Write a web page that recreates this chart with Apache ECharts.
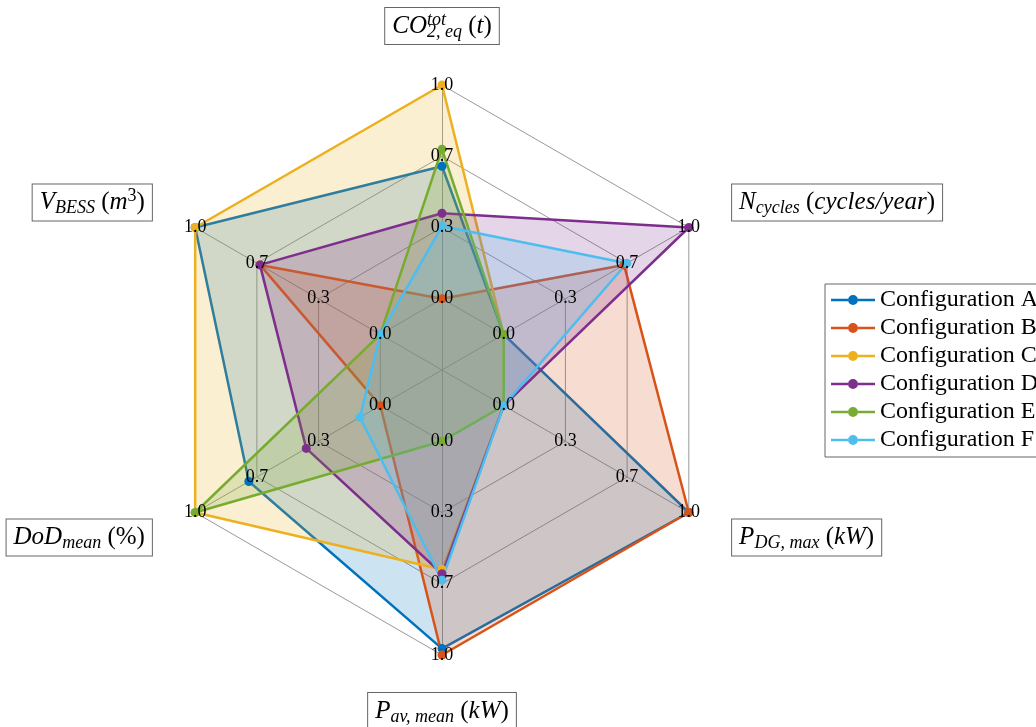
<!DOCTYPE html>
<html>
<head>
<meta charset="utf-8">
<script src="https://cdn.jsdelivr.net/npm/echarts@6/dist/echarts.min.js"></script>
<style>
  html, body { margin: 0; padding: 0; background: #fff; }
  #main { width: 1036px; height: 727px; }
</style>
</head>
<body>
<div id="main"></div>
<script>
// axes, counter-clockwise from the top (ECharts order)
const axisNames = [
  '{i|CO}{supz|tot}{sub|2, eq}{r| (}{i|t}{r|)}',
  '{i|V}{sub|BESS}{r| (}{i|m}{sup|3}{r|)}',
  '{i|DoD}{sub|mean}{r| (%)}',
  '{i|P}{sub|av, mean}{r| (}{i|kW}{r|)}',
  '{i|P}{sub|DG, max}{r| (}{i|kW}{r|)}',
  '{i|N}{sub|cycles}{r| (}{i|cycles/year}{r|)}'
];
const configNames = ['Configuration A', 'Configuration B', 'Configuration C',
  'Configuration D', 'Configuration E', 'Configuration F'];
const configA = [0.62, 1.0, 0.71, 0.97, 1.0, 0.0];
const configB = [0.0, 0.65, 0.0, 1.0, 1.0, 0.65];
const configC = [1.0, 1.0, 1.0, 0.60, 0.0, 0.0];
const configD = [0.40, 0.65, 0.40, 0.62, 0.0, 1.0];
const configE = [0.70, 0.0, 1.0, 0.0, 0.0, 0.0];
const configF = [0.34, 0.0, 0.11, 0.65, 0.0, 0.665];
const colors = ['#0072BD', '#D95319', '#EDB120', '#7E2F8E', '#77AC30', '#4DBEEE'];

const allValues = [configA, configB, configC, configD, configE, configF];
const serif = 'Liberation Serif';
const center = [442, 370];
const radius = 285;
// name gap per axis (top and bottom boxes sit closer)
const nameGaps = [41, 50, 50, 38, 50, 50];

let chart = echarts.init(document.getElementById('main'));

chart.setOption({
  backgroundColor: '#fff',
  animation: false,
  legend: {
    orient: 'vertical',
    left: 825,
    top: 284,
    padding: [2, 6, 3, 6],
    itemGap: 0,
    itemWidth: 44,
    itemHeight: 10,
    icon: 'path://M0,3.7H17V6.3H0Z M27,3.7H44V6.3H27Z M17,5A5,5 0 1 1 27,5A5,5 0 1 1 17,5Z',
    borderColor: '#666',
    borderWidth: 1,
    backgroundColor: '#fff',
    itemStyle: { borderWidth: 0 },
    textStyle: { fontFamily: serif, fontSize: 24, lineHeight: 28, color: '#000' },
    data: configNames
  },
  radar: [
    {
      // grid + boxed axis names
      center: center,
      radius: radius,
      startAngle: 90,
      shape: 'polygon',
      splitNumber: 4,
      indicator: axisNames.map((n, i) => ({ name: n, min: -1 / 3, max: 1, nameGap: nameGaps[i] })),
      axisName: {
        color: '#000',
        fontFamily: serif,
        fontSize: 25,
        lineHeight: 30,
        backgroundColor: '#fff',
        borderColor: '#666',
        borderWidth: 1,
        padding: [3, 7],
        rich: {
          i: { fontFamily: serif, fontStyle: 'italic', fontSize: 25, lineHeight: 30, align: 'left' },
          r: { fontFamily: serif, fontSize: 25, lineHeight: 30, align: 'left' },
          sub: { fontFamily: serif, fontStyle: 'italic', fontSize: 18, lineHeight: 30, verticalAlign: 'bottom', align: 'left' },
          sup: { fontFamily: serif, fontSize: 18, lineHeight: 30, verticalAlign: 'top', align: 'left' },
          supz: { fontFamily: serif, fontStyle: 'italic', fontSize: 18, lineHeight: 30, verticalAlign: 'top', align: 'left', width: 0.01 }
        }
      },
      axisLine: { show: true, lineStyle: { color: '#999', width: 1 } },
      axisTick: { show: false },
      axisLabel: { show: false },
      splitLine: { lineStyle: { color: '#999', width: 1 } },
      splitArea: { show: false }
    },
    {
      // tick labels only, drawn above the series
      z: 10,
      center: center,
      radius: radius,
      startAngle: 90,
      shape: 'polygon',
      splitNumber: 4,
      indicator: axisNames.map(() => ({ name: '', min: -1 / 3, max: 1 })),
      axisName: { show: false },
      axisLine: { show: false },
      axisTick: { show: false },
      splitLine: { show: false },
      splitArea: { show: false },
      axisLabel: {
        show: true,
        margin: 0,
        align: 'center',
        verticalAlign: 'middle',
        fontFamily: serif,
        fontSize: 18,
        color: '#000',
        formatter: function (v) {
          if (v < -0.1) return '';
          if (Math.abs(v) < 1e-6) return '0.0';
          return v.toFixed(1);
        }
      }
    }
  ],
  series: [
    {
      type: 'radar',
      radarIndex: 0,
      symbol: 'circle',
      symbolSize: 9,
      data: allValues.map((vals, i) => ({
        name: configNames[i],
        value: vals,
        itemStyle: { color: colors[i] },
        lineStyle: { color: colors[i], width: 2.5 },
        areaStyle: { color: colors[i], opacity: 0.2 }
      }))
    }
  ]
});
</script>
</body>
</html>
